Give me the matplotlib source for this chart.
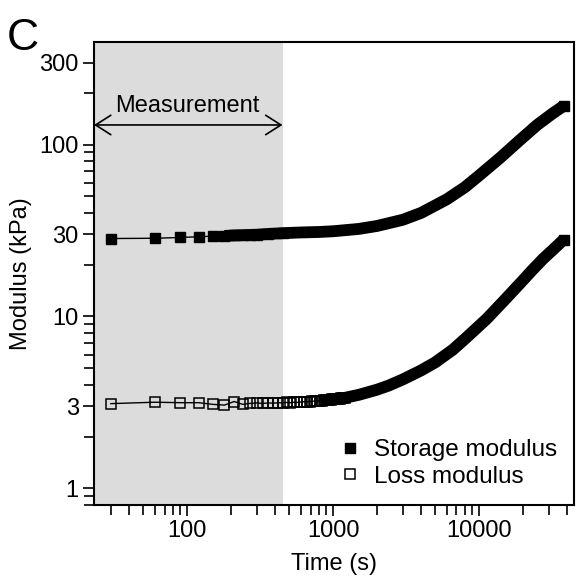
import numpy as np
import matplotlib.pyplot as plt
from matplotlib.lines import Line2D
from matplotlib.ticker import FixedLocator, FixedFormatter, NullFormatter

plt.rcParams['font.family'] = ['Liberation Sans', 'DejaVu Sans']

# storage modulus (kPa)
storage_t = [30, 60, 90, 120, 150, 180, 210, 240, 270, 300, 360, 450, 600, 800,
             1000, 1500, 2000, 3000, 4000, 6000, 8000, 10000, 14000, 19000,
             25000, 32000, 38000]
storage_g = [28.4, 28.5, 28.8, 29.1, 29.3, 29.4, 29.6, 29.7, 29.8, 29.9, 30.2,
             30.5, 30.8, 31.0, 31.3, 32.3, 33.6, 36.5, 40.0, 48.0, 56.5, 66.0,
             84.0, 106.0, 130.0, 152.0, 168.0]

# loss modulus (kPa), dense open markers at the start
loss_t = [30, 60, 90, 120, 150, 180, 210, 240, 270, 300, 330, 360, 390, 420,
          450, 480, 510, 540, 570, 600, 630, 660, 690, 720, 750, 780, 810, 840,
          870, 900, 930, 960, 990, 1020, 1050, 1080, 1110, 1140, 1170, 1200]
loss_g = [3.11, 3.17, 3.15, 3.15, 3.08, 3.05, 3.20, 3.08, 3.12, 3.14, 3.12,
          3.14, 3.13, 3.15, 3.14, 3.16, 3.15, 3.17, 3.16, 3.18, 3.19, 3.19,
          3.20, 3.21, 3.22, 3.22, 3.23, 3.24, 3.25, 3.26, 3.27, 3.28, 3.29,
          3.30, 3.31, 3.32, 3.33, 3.34, 3.35, 3.36]
loss_tail_t = [800, 1000, 1200, 1500, 2000, 2400, 3000, 4000, 5000, 6600, 8000,
               11300, 15000, 19000, 23000, 27400, 32000, 38000]
loss_tail_g = [3.23, 3.30, 3.36, 3.5, 3.75, 3.96, 4.3, 4.85, 5.4, 6.4, 7.4,
               9.7, 12.5, 15.5, 18.5, 21.6, 24.4, 28.0]

measure_end = 450

fig = plt.figure(figsize=(5.76, 5.83), dpi=100)
ax = fig.add_axes([94/576, 1-505/583, (574-94)/576, (505-42)/583])
ax.set_xscale('log')
ax.set_yscale('log')
ax.set_xlim(23, 44700)
ax.set_ylim(0.8, 395)

ax.axvspan(23, measure_end, color='#dcdcdc', lw=0, zorder=0)

# storage: thin line + markers, dense part as a thick band
st_t = np.array(storage_t)
st_g = np.array(storage_g)
m = st_t >= 180
ax.plot(st_t[m], st_g[m], '-', color='k', lw=8.5, solid_capstyle='butt', zorder=2)
early = st_t <= 450
ax.plot(st_t[early], st_g[early], 's-', color='k', ms=6.5, lw=1, zorder=3)
ax.plot(st_t[-1:], st_g[-1:], 's', color='k', ms=7, zorder=3)

# loss
ax.plot(loss_tail_t, loss_tail_g, '-', color='k', lw=8.5, solid_capstyle='butt', zorder=2)
ax.plot(loss_tail_t[-1:], loss_tail_g[-1:], 's', color='k', ms=7, zorder=3)
ax.plot(loss_t, loss_g, 's-', color='k', mfc='none', mec='k', mew=1.1,
        ms=6.5, lw=1, zorder=3)

# measurement arrow
ax.annotate('', xy=(23, 130), xytext=(measure_end, 130),
            arrowprops=dict(arrowstyle='<->,head_length=0.55,head_width=0.35',
                            lw=1.2, color='k', mutation_scale=20,
                            shrinkA=0, shrinkB=0))
ax.text(101, 168, 'Measurement', ha='center', va='center', fontsize=17)

# ticks
ax.yaxis.set_major_locator(FixedLocator([1, 3, 10, 30, 100, 300]))
ax.yaxis.set_major_formatter(FixedFormatter(['1', '3', '10', '30', '100', '300']))
ax.yaxis.set_minor_locator(FixedLocator([0.8, 0.9, 2, 4, 5, 6, 7, 8, 9, 20, 40, 50,
                                         60, 70, 80, 90, 200]))
ax.yaxis.set_minor_formatter(NullFormatter())
ax.xaxis.set_major_locator(FixedLocator([100, 1000, 10000]))
ax.xaxis.set_major_formatter(FixedFormatter(['100', '1000', '10000']))
ax.xaxis.set_minor_locator(FixedLocator([30, 40, 50, 60, 70, 80, 90,
                                         200, 300, 400, 500, 600, 700, 800, 900,
                                         2000, 3000, 4000, 5000, 6000, 7000, 8000, 9000,
                                         20000, 30000, 40000]))
ax.xaxis.set_minor_formatter(NullFormatter())
ax.tick_params(which='major', direction='out', length=8, width=1.2, labelsize=17, pad=3)
ax.tick_params(which='minor', direction='out', length=7, width=1.2)

for s in ax.spines.values():
    s.set_linewidth(1.5)

ax.set_xlabel('Time (s)', fontsize=17, labelpad=8)
ax.set_ylabel('Modulus (kPa)', fontsize=17, labelpad=5)

handles = [Line2D([], [], marker='s', ls='none', color='k', ms=6.5),
           Line2D([], [], marker='s', ls='none', color='k', mfc='none', mew=1.1, ms=6.5)]
ax.legend(handles, ['Storage modulus', 'Loss modulus'], loc='lower right',
          frameon=False, fontsize=17.5, handlelength=0.8, handletextpad=0.6,
          labelspacing=0.2, borderaxespad=0.3)

fig.text(0.012, 1-50/583, 'C', fontsize=32, va='baseline')

fig.savefig('out.png', dpi=100)
